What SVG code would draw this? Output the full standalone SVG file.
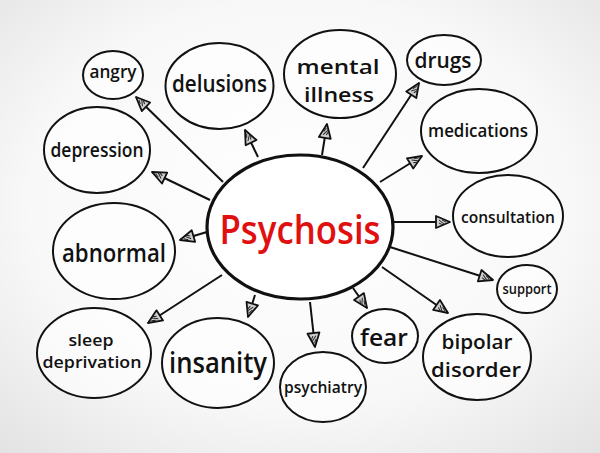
<svg xmlns="http://www.w3.org/2000/svg" width="600" height="453" viewBox="0 0 600 453">
<defs>
<radialGradient id="bg" cx="50%" cy="45%" r="75%">
<stop offset="0" stop-color="#ffffff"/>
<stop offset="0.6" stop-color="#f8f8f8"/>
<stop offset="1" stop-color="#e2e2e2"/>
</radialGradient>
<marker id="ah" markerUnits="userSpaceOnUse" markerWidth="18" markerHeight="16" viewBox="0 0 18 16" refX="16" refY="8" orient="auto">
<path d="M2,2 L16,8 L2,14 Z" fill="#cfcfcf" stroke="#111" stroke-width="1.8" stroke-linejoin="round"/>
<path d="M5,6 L10,10 M5,9 L9,11 M8,6 L12,8" stroke="#222" stroke-width="1"/>
</marker>
<style>
.n{fill:#fff;fill-opacity:0.6;stroke:#111;stroke-width:2}
.c{fill:#fff;stroke:#111;stroke-width:3.2}
.t{font-family:"Open Sans","Liberation Sans",sans-serif;font-weight:600;fill:#111;text-anchor:middle}
.l{stroke:#111;stroke-width:2;fill:none;marker-end:url(#ah)}
</style>
</defs>
<rect width="600" height="453" fill="url(#bg)"/>
<g id="connectors">
<line class="l" x1="223" y1="182" x2="136" y2="97"/>
<line class="l" x1="258" y1="157" x2="245" y2="130"/>
<line class="l" x1="322" y1="155" x2="327" y2="124"/>
<line class="l" x1="363" y1="168" x2="419" y2="83"/>
<line class="l" x1="380" y1="182" x2="422" y2="156"/>
<line class="l" x1="392" y1="222" x2="450" y2="222"/>
<line class="l" x1="390" y1="247" x2="493" y2="280"/>
<line class="l" x1="382" y1="267" x2="448" y2="313"/>
<line class="l" x1="353" y1="288" x2="367" y2="308"/>
<line class="l" x1="310" y1="302" x2="315" y2="347"/>
<line class="l" x1="255" y1="295" x2="248" y2="317"/>
<line class="l" x1="222" y1="275" x2="148" y2="323"/>
<line class="l" x1="207" y1="232" x2="180" y2="240"/>
<line class="l" x1="210" y1="200" x2="152" y2="172"/>
</g>
<g id="psychosis">
<ellipse class="c" cx="300" cy="227" rx="93" ry="72"/>
<text x="300" y="244" font-family="'Open Sans','Liberation Sans',sans-serif" font-weight="600" font-size="40" fill="#e01010" text-anchor="middle" textLength="161" lengthAdjust="spacingAndGlyphs">Psychosis</text>
</g>
<g id="angry"><ellipse class="n" cx="113" cy="75" rx="30" ry="24"/><text class="t" x="113" y="78" font-size="18" textLength="47" lengthAdjust="spacingAndGlyphs">angry</text></g>
<g id="delusions"><ellipse class="n" cx="219.5" cy="86" rx="54" ry="43"/><text class="t" x="219.5" y="92" font-size="24" textLength="95" lengthAdjust="spacingAndGlyphs">delusions</text></g>
<g id="mental-illness"><ellipse class="n" cx="340" cy="74" rx="56" ry="44"/><text class="t" x="338" y="74" font-size="20" textLength="83" lengthAdjust="spacingAndGlyphs">mental</text><text class="t" x="339" y="102" font-size="20" textLength="70" lengthAdjust="spacingAndGlyphs">illness</text></g>
<g id="drugs"><ellipse class="n" cx="444" cy="60" rx="37" ry="25"/><text class="t" x="443" y="68" font-size="21" textLength="57" lengthAdjust="spacingAndGlyphs">drugs</text></g>
<g id="medications"><ellipse class="n" cx="479" cy="131" rx="58" ry="42"/><text class="t" x="478" y="137" font-size="18" textLength="100" lengthAdjust="spacingAndGlyphs">medications</text></g>
<g id="consultation"><ellipse class="n" cx="508" cy="216" rx="55" ry="41"/><text class="t" x="508" y="223" font-size="17" textLength="94" lengthAdjust="spacingAndGlyphs">consultation</text></g>
<g id="support"><ellipse class="n" cx="527" cy="289" rx="30" ry="24"/><text class="t" x="527" y="294" font-size="15" textLength="49" lengthAdjust="spacingAndGlyphs">support</text></g>
<g id="bipolar-disorder"><ellipse class="n" cx="477" cy="357" rx="54" ry="43"/><text class="t" x="477" y="349" font-size="20" textLength="71" lengthAdjust="spacingAndGlyphs">bipolar</text><text class="t" x="476" y="377" font-size="20" textLength="90" lengthAdjust="spacingAndGlyphs">disorder</text></g>
<g id="fear"><ellipse class="n" cx="385" cy="336" rx="33" ry="27"/><text class="t" x="384" y="346" font-size="24" textLength="48" lengthAdjust="spacingAndGlyphs">fear</text></g>
<g id="psychiatry"><ellipse class="n" cx="323" cy="387" rx="43" ry="35"/><text class="t" x="323" y="393" font-size="16" textLength="78" lengthAdjust="spacingAndGlyphs">psychiatry</text></g>
<g id="insanity"><ellipse class="n" cx="218" cy="363" rx="56" ry="45"/><text class="t" x="218" y="373" font-size="28" textLength="98" lengthAdjust="spacingAndGlyphs">insanity</text></g>
<g id="sleep-deprivation"><ellipse class="n" cx="94" cy="353" rx="57" ry="45"/><text class="t" x="91" y="346" font-size="17" textLength="45" lengthAdjust="spacingAndGlyphs">sleep</text><text class="t" x="92" y="368" font-size="17" textLength="99" lengthAdjust="spacingAndGlyphs">deprivation</text></g>
<g id="abnormal"><ellipse class="n" cx="114" cy="251" rx="61" ry="48"/><text class="t" x="114" y="262" font-size="26" textLength="104" lengthAdjust="spacingAndGlyphs">abnormal</text></g>
<g id="depression"><ellipse class="n" cx="97" cy="150" rx="53" ry="43"/><text class="t" x="97" y="157" font-size="19" textLength="93" lengthAdjust="spacingAndGlyphs">depression</text></g>
</svg>
